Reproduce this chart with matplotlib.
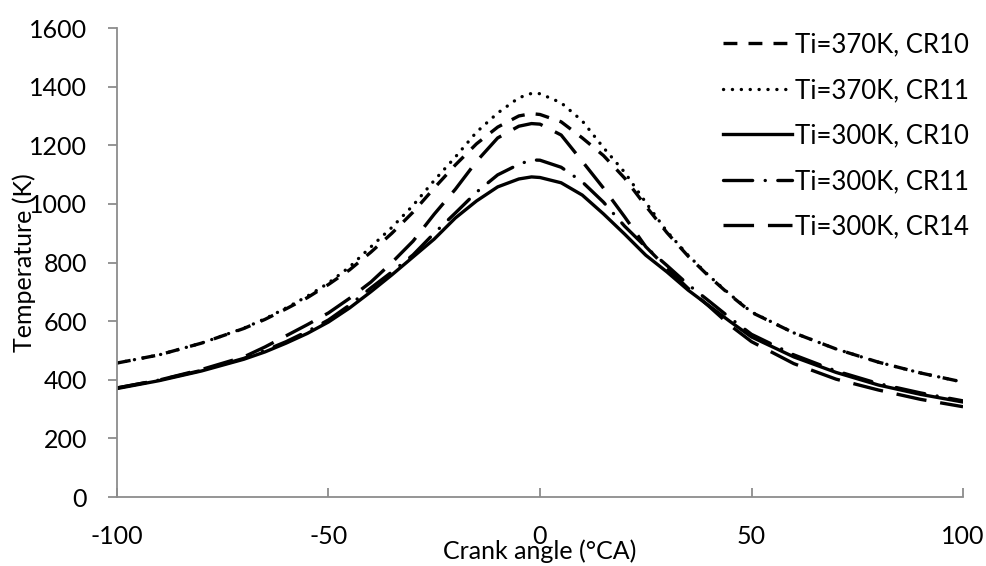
import matplotlib
matplotlib.use('Agg')
import matplotlib.pyplot as plt

plt.rcParams['font.family'] = ['Lato', 'DejaVu Sans']
plt.rcParams['lines.scale_dashes'] = False
plt.rcParams['axes.unicode_minus'] = False

# crank angle (deg CA)
angle = [-100, -90, -80, -70, -65, -60, -55, -50, -45, -40, -35, -30, -25, -20, -15, -10, -5, -2, 0,
         5, 10, 15, 20, 25, 30, 35, 40, 45, 50, 60, 70, 80, 90, 100]

# in-cylinder temperature (K)
t370_cr10 = [457, 485, 525, 575, 606, 642, 680, 725, 775, 835, 900, 972, 1054, 1133, 1205, 1262, 1300, 1308, 1305,
             1280, 1225, 1165, 1088, 993, 902, 822, 752, 688, 630, 560, 505, 460, 423, 392]
t370_cr11 = [457, 485, 525, 576, 608, 645, 685, 730, 785, 853, 920, 995, 1080, 1160, 1245, 1310, 1362, 1377, 1376,
             1345, 1283, 1192, 1108, 1005, 906, 825, 754, 690, 631, 560, 505, 460, 423, 392]
t300_cr10 = [370, 397, 430, 470, 495, 525, 558, 597, 645, 700, 758, 819, 880, 952, 1010, 1058, 1085, 1092, 1090,
             1072, 1030, 966, 897, 825, 768, 706, 652, 598, 546, 478, 425, 382, 350, 324]
t300_cr11 = [372, 399, 432, 473, 500, 530, 565, 604, 655, 713, 768, 826, 900, 969, 1040, 1099, 1135, 1150, 1149,
             1125, 1075, 1006, 924, 853, 790, 725, 668, 610, 555, 485, 430, 387, 355, 328]
t300_cr14 = [372, 399, 435, 478, 512, 550, 588, 628, 678, 733, 800, 873, 965, 1050, 1145, 1225, 1265, 1274, 1272,
             1235, 1145, 1054, 956, 854, 781, 712, 650, 585, 530, 455, 402, 365, 333, 308]

labels = ['Ti=370K, CR10', 'Ti=370K, CR11', 'Ti=300K, CR10', 'Ti=300K, CR11', 'Ti=300K, CR14']
series = [t370_cr10, t370_cr11, t300_cr10, t300_cr11, t300_cr14]
styles = [(0, (10, 8)), (0, (0.1, 6.3)), '-', (0, (21, 9, 0.1, 9)), (0, (22, 10))]
caps = ['butt', 'round', 'butt', 'round', 'butt']

fig = plt.figure(figsize=(9.87, 5.66), dpi=100)
ax = fig.add_axes([0.1185, 0.1219, 0.8572, 0.8286])

for y, lab, ls, cap in zip(series, labels, styles, caps):
    ax.plot(angle, y, color='black', linewidth=2.4, linestyle=ls,
            dash_capstyle=cap, label=lab)

ax.set_xlim(-100, 100)
ax.set_ylim(0, 1600)
ax.set_xticks([-100, -50, 0, 50, 100])
ax.set_yticks(range(0, 1601, 200))

for side in ['top', 'right']:
    ax.spines[side].set_visible(False)
for side in ['left', 'bottom']:
    ax.spines[side].set_color('#8c8c8c')
    ax.spines[side].set_linewidth(1.3)

ax.tick_params(axis='y', direction='out', length=6.5, width=1.3, color='#8c8c8c',
               labelsize=18, pad=15)
ax.tick_params(axis='x', direction='in', length=6.5, width=1.3, color='#8c8c8c',
               labelsize=18, pad=20)

ax.set_xlabel('Crank angle (°CA)', fontsize=18)
ax.xaxis.set_label_coords(0.5, -0.115)
ax.xaxis.label.set_va('center')
ax.set_ylabel('Temperature (K)', fontsize=18)
ax.yaxis.set_label_coords(-0.11, 0.5)
ax.yaxis.label.set_va('center')

ax.legend(loc='upper left', bbox_to_anchor=(0.7325, 0.943), bbox_transform=fig.transFigure,
          frameon=False, fontsize=18.5, handlelength=2.7, handletextpad=0.1,
          labelspacing=0.8, borderpad=0, borderaxespad=0)

fig.savefig('out.png', dpi=100)
